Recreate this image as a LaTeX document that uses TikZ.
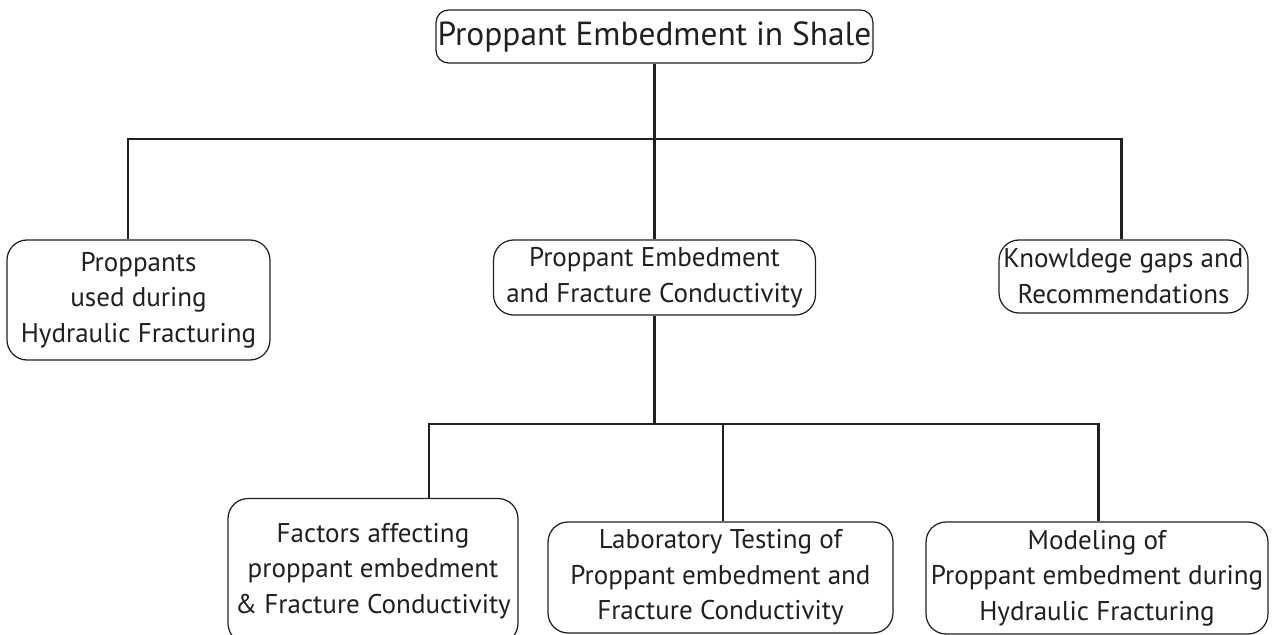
\documentclass[tikz,border=0pt]{standalone}
\usepackage{fontspec}
\setmainfont{PT Sans}
\usetikzlibrary{positioning}
\definecolor{TreeInk}{HTML}{231F20}
\tikzset{
  topicbox/.style={draw=TreeInk,line width=0.7pt,rounded corners=0.4cm,
    inner sep=0pt,align=center,text=TreeInk,
    font=\fontsize{15.4}{20.3}\selectfont},
  busline/.style={draw=TreeInk,line width=1.7pt},
}

\begin{document}
\begin{tikzpicture}[x=0.02cm,y=-0.02cm]
        \useasboundingbox (0,0) rectangle (1276,635);

        \node[topicbox,rounded corners=0.25cm,minimum width=8.74cm,
          minimum height=1.06cm,font=\fontsize{19}{23}\selectfont]
          (shale) at (654.5,36.5) {Proppant Embedment in Shale};

        \node[topicbox,minimum width=5.26cm,minimum height=2.40cm]
          (props) at (138.5,300) {Proppants\\used during\\Hydraulic Fracturing};
        \node[topicbox,minimum width=6.44cm,minimum height=1.50cm]
          (embed) at (654.5,277.5) {Proppant Embedment\\and Fracture Conductivity};
        \node[topicbox,minimum width=4.98cm,minimum height=1.46cm]
          (gaps) at (1123.5,276.5) {Knowldege gaps and\\Recommendations};

        \node[topicbox,minimum width=5.80cm,minimum height=2.90cm]
          (factors) at (373,571) {Factors affecting\\proppant embedment\\\& Fracture Conductivity};
        \node[topicbox,minimum width=6.90cm,minimum height=2.22cm]
          (labtest) at (720.5,577.5) {Laboratory Testing of\\Proppant embedment and\\Fracture Conductivity};
        \node[topicbox,minimum width=6.84cm,minimum height=2.24cm]
          (modeling) at (1097,578) {Modeling of\\Proppant embedment during\\Hydraulic Fracturing};

        % upper bus
        \coordinate (busNW) at (128,139);
        \coordinate (busNE) at (1121,139);
        \draw[busline] (shale.south) -- (embed.north);
        \draw[busline] (busNW |- props.north) -- (busNW) -- (busNE)
          -- (busNE |- gaps.north);

        % lower bus
        \coordinate (busSW) at (429,424);
        \coordinate (busSE) at (1098,424);
        \draw[busline] (embed.south) -- (embed.south |- busSW);
        \draw[busline] (busSW |- factors.north) -- (busSW) -- (busSE)
          -- (busSE |- modeling.north);
        \draw[busline] (labtest.north -| 723,0) -- (723,424);
\end{tikzpicture}
\end{document}
